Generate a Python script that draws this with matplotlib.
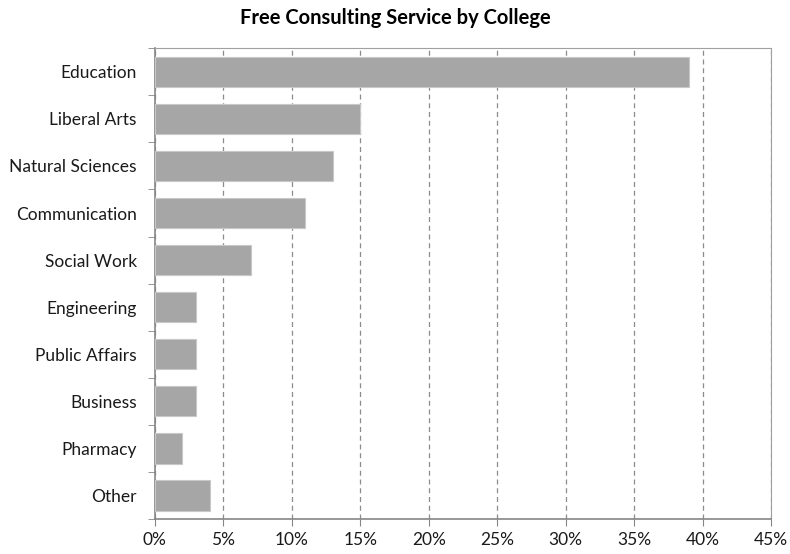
import numpy as np
import matplotlib
matplotlib.use("Agg")
import matplotlib.pyplot as plt
from matplotlib.ticker import FixedLocator, PercentFormatter

colleges = ["Education", "Liberal Arts", "Natural Sciences", "Communication",
            "Social Work", "Engineering", "Public Affairs", "Business",
            "Pharmacy", "Other"]
shares = [39, 15, 13, 11, 7, 3, 3, 3, 2, 4]
xticks = list(range(0, 50, 5))

plt.rcParams["font.family"] = ["Lato", "DejaVu Sans"]

fig = plt.figure(figsize=(7.9, 5.54), dpi=100)
ax = fig.add_axes([0.196, 0.063, 0.78, 0.850])

y = np.arange(len(colleges))
ax.barh(y, shares, height=0.64, color="#a6a6a6", edgecolor="#c8c8c8",
        linewidth=0.8, zorder=3)

ax.set_ylim(len(colleges) - 0.5, -0.5)
ax.set_yticks(y)
ax.set_yticklabels(colleges, fontsize=12.5, color="#1a1a1a")
ax.yaxis.set_minor_locator(FixedLocator(np.arange(-0.5, len(colleges), 1)))
ax.tick_params(axis="y", which="major", length=0, pad=13)
ax.tick_params(axis="y", which="minor", length=5, color="#868686", direction="out")

ax.set_xlim(0, 45)
ax.set_xticks(xticks)
ax.xaxis.set_major_formatter(PercentFormatter(decimals=0))
ax.tick_params(axis="x", length=5, color="#868686", labelsize=12.5,
               labelcolor="#1a1a1a", pad=4)

ax.grid(axis="x", linestyle=(0, (4, 3)), color="#8c8c8c", linewidth=0.9, zorder=0)
for side in ["top", "right"]:
    ax.spines[side].set_color("#a0a0a0")
for side in ["left", "bottom"]:
    ax.spines[side].set_color("#868686")
    ax.spines[side].set_linewidth(1.2)

fig.text(0.5, 0.968, "Free Consulting Service by College", ha="center",
         va="center", fontsize=14.5, fontweight="bold", color="#000000")

fig.savefig("out.png", dpi=100)
